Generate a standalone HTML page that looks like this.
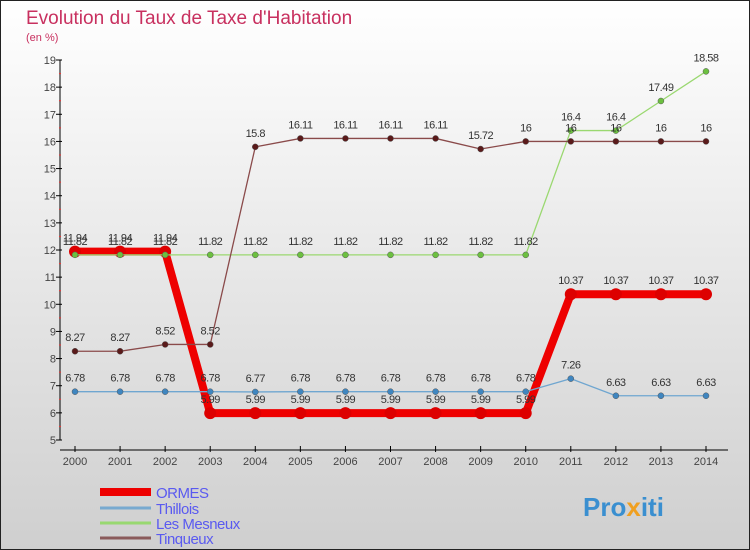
<!DOCTYPE html>
<html><head><meta charset="utf-8"><style>
body{margin:0}
svg{display:block;font-family:"Liberation Sans",sans-serif}
</style></head><body>
<svg id="c" width="750" height="550">
<defs><linearGradient id="bg" x1="0" y1="0" x2="0" y2="1"><stop offset="0" stop-color="#ffffff"/><stop offset="1" stop-color="#cfcfcf"/></linearGradient></defs>
<rect x="0.5" y="0.5" width="749" height="549" fill="url(#bg)" stroke="#222"/>
<text x="26" y="24" font-size="19" fill="#c8305f">Evolution du Taux de Taxe d'Habitation</text>
<text x="26" y="41" font-size="11" fill="#c8305f">(en %)</text>
<g id="axes"></g>
<g id="series"></g>
<g id="legend"></g>
<text x="583" y="516" font-size="26" font-weight="bold" fill="#3a8fd0">Pro<tspan fill="#f0a020">x</tspan>iti</text>
</svg>
<script>
const years=[2000,2001,2002,2003,2004,2005,2006,2007,2008,2009,2010,2011,2012,2013,2014];
const yTicks=[5,6,7,8,9,10,11,12,13,14,15,16,17,18,19];
const ormes=[11.94,11.94,11.94,5.99,5.99,5.99,5.99,5.99,5.99,5.99,5.99,10.37,10.37,10.37,10.37];
const thillois=[6.78,6.78,6.78,6.78,6.77,6.78,6.78,6.78,6.78,6.78,6.78,7.26,6.63,6.63,6.63];
const mesneux=[11.82,11.82,11.82,11.82,11.82,11.82,11.82,11.82,11.82,11.82,11.82,16.4,16.4,17.49,18.58];
const tinqueux=[8.27,8.27,8.52,8.52,15.8,16.11,16.11,16.11,16.11,15.72,16,16,16,16,16];
const names=["ORMES","Thillois","Les Mesneux","Tinqueux"];
const NS="http://www.w3.org/2000/svg";
const X=i=>75+i*(706-75)/(years.length-1);
const Y=v=>440-(v-5)*(380/14);
function mk(t,a,p){const e=document.createElementNS(NS,t);for(const k in a)e.setAttribute(k,a[k]);p.appendChild(e);return e;}
const ax=document.getElementById('axes');
let l=mk('line',{x1:60,y1:60,x2:60,y2:440,stroke:'#000'},ax);


l=mk('line',{x1:60,y1:450,x2:728,y2:450,stroke:'#000'},ax);


yTicks.forEach(v=>{
 mk('line',{x1:56,y1:Y(v),x2:62,y2:Y(v),stroke:'#000'},ax);
 if(v<19)mk('line',{x1:59,y1:Y(v+0.5),x2:61,y2:Y(v+0.5),stroke:'#e33'},ax);
 const t=mk('text',{x:56,y:Y(v)+4,'font-size':11,fill:'#444','text-anchor':'end'},ax);t.textContent=v;
 
 
});
years.forEach((yr,i)=>{
 mk('line',{x1:X(i),y1:446,x2:X(i),y2:452,stroke:'#000'},ax);
 const t=mk('text',{x:X(i),y:465,'font-size':11,fill:'#444','text-anchor':'middle'},ax);t.textContent=yr;
 
 
});
const sg=document.getElementById('series');
const defs=[[ormes,'#ee0000','#dd0000',8,6],[thillois,'#6fa6d0','#3f86c0',1.3,3],[mesneux,'#9ad870','#6cc040',1.3,3],[tinqueux,'#8a4a4a','#5a1a1a',1.3,3]];
const lab=[];
defs.forEach((d,s)=>{
 const g=mk('g',{},sg);
 
 
 const p=mk('polyline',{points:d[0].map((v,i)=>X(i)+','+Y(v)).join(' '),fill:'none',stroke:d[1],'stroke-width':d[3],'stroke-linejoin':'round'},g);
 
 
 d[0].forEach((v,i)=>{
  const c=mk('circle',{cx:X(i),cy:Y(v),r:d[4],fill:d[2],stroke:s==0?'none':'#555','stroke-width':0.5},g);
  
  
  lab.push([X(i),Y(v)-10,v]);
 });
});
lab.forEach(a=>{const t=mk('text',{x:a[0],y:a[1],'font-size':11,fill:'#333','text-anchor':'middle','letter-spacing':'-0.5'},sg);t.textContent=a[2];
 
 });
const lg=document.getElementById('legend');
const lc=['#ee0000','#78aad0','#98d870','#8a5a5a'],lw=[8,3,3,3],ly=[492,508,523,538];
names.forEach((n,i)=>{
 const g=mk('g',{},lg);
 
 
 mk('line',{x1:100,y1:ly[i],x2:151,y2:ly[i],stroke:lc[i],'stroke-width':lw[i]},g);
 const t=mk('text',{x:156,y:ly[i]+6,'font-size':15,fill:'#5a5af0','letter-spacing':'-0.5'},g);t.textContent=n;
});
</script>
</body></html>
